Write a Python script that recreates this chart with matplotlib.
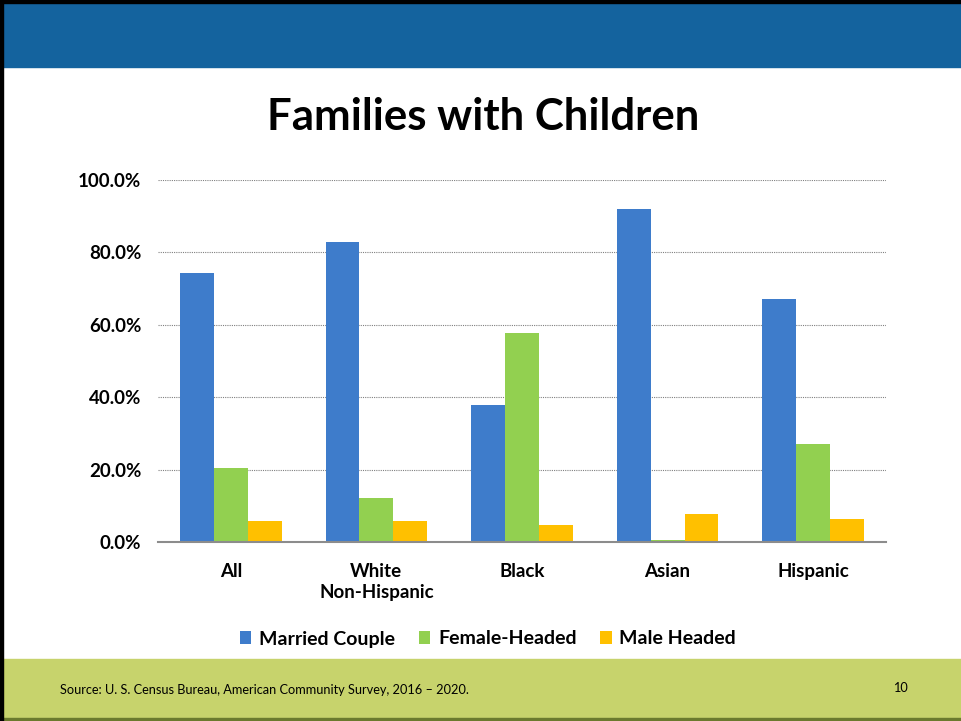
import matplotlib.pyplot as plt
from matplotlib.patches import Rectangle
from matplotlib.ticker import FuncFormatter

categories = ['All', 'White\nNon-Hispanic', 'Black', 'Asian', 'Hispanic']
married = [74.3, 82.9, 37.8, 92.0, 67.1]
female = [20.4, 12.2, 57.7, 0.5, 27.1]
male = [5.8, 5.8, 4.7, 7.7, 6.4]
series_names = ['Married Couple', 'Female-Headed', 'Male Headed']
colors = ['#3E7CCB', '#92D050', '#FFC000']

plt.rcParams['font.family'] = ['Lato', 'DejaVu Sans']

W, H = 961, 721
fig = plt.figure(figsize=(W / 100, H / 100), dpi=100)

# фон слайда
def px_rect(x0, y0, x1, y1, color):
    fig.patches.append(Rectangle((x0 / W, 1 - y1 / H), (x1 - x0) / W, (y1 - y0) / H,
                                 transform=fig.transFigure, color=color, zorder=0))

px_rect(0, 0, W, 67, '#14639E')
px_rect(0, 659, W, 718, '#C7D36C')
px_rect(0, 718, W, H, '#6B7A2E')
px_rect(0, 0, W, 3, 'black')
px_rect(0, 0, 3, H, 'black')

fig.text(483 / W, 1 - 117 / H, 'Families with Children', ha='center', va='center',
         fontsize=31.5, fontweight='bold')
fig.text(60 / W, 1 - 690 / H, 'Source: U. S. Census Bureau, American Community Survey, 2016 \u2013 2020.',
         ha='left', va='center', fontsize=9.2)
fig.text(900 / W, 1 - 688 / H, '10', ha='center', va='center', fontsize=9.2)

ax = fig.add_axes([158 / W, 1 - 542 / H, 728 / W, (542 - 180) / H])
x = range(len(categories))
bw = 0.233
for i, (vals, name, c) in enumerate(zip([married, female, male], series_names, colors)):
    ax.bar([k + (i - 1) * bw for k in x], vals, width=bw, color=c, label=name, zorder=3)

ax.set_xlim(-0.5, len(categories) - 0.5)
ax.set_ylim(0, 100)
ax.set_yticks([0, 20, 40, 60, 80, 100])
ax.yaxis.set_major_formatter(FuncFormatter(lambda v, p: f'{v:.1f}%'))
ax.set_xticks(list(x))
ax.set_xticklabels(categories, linespacing=1.3)
ax.tick_params(length=0, labelsize=13.5)
ax.tick_params(axis='x', pad=15)
ax.tick_params(axis='y', pad=12)
for lbl in ax.get_xticklabels() + ax.get_yticklabels():
    lbl.set_fontweight('bold')
ax.yaxis.grid(True, linestyle=(0, (1, 1)), color='#808080', linewidth=0.8, zorder=0)
for s in ['top', 'right', 'left']:
    ax.spines[s].set_visible(False)
ax.spines['bottom'].set_color('#8C8C8C')
ax.spines['bottom'].set_linewidth(1.5)
ax.spines['bottom'].set_zorder(4)

leg = fig.legend(loc='center', bbox_to_anchor=(488 / W, 1 - 639 / H), ncol=3, frameon=False,
                 handlelength=0.6, handleheight=0.6, handletextpad=0.4, columnspacing=1.2,
                 prop={'size': 14, 'weight': 'bold'})

fig.savefig('out.png', dpi=100)
